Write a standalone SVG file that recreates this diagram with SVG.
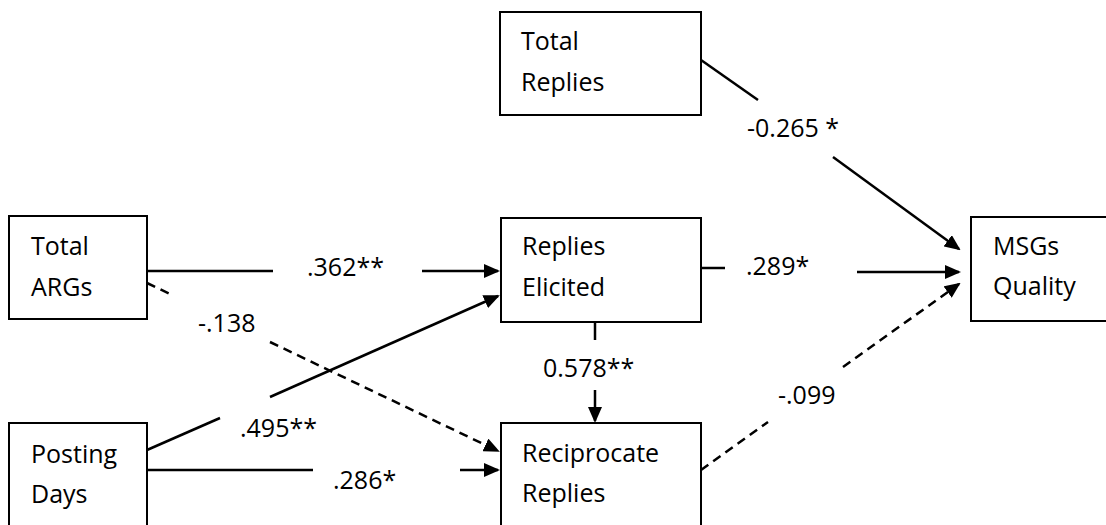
<svg xmlns="http://www.w3.org/2000/svg" width="1106" height="525" viewBox="0 0 1106 525">
<defs>
<style>
.box{fill:#fff;stroke:#000;stroke-width:2}
.t{font-family:"Open Sans","Liberation Sans",sans-serif;font-size:25px;fill:#000}
.c{fill:none;stroke:#000;stroke-width:2.5}
.d{stroke-dasharray:9,6}
</style>
<marker id="ah" markerUnits="userSpaceOnUse" markerWidth="16" markerHeight="14" refX="14" refY="7" orient="auto">
<path d="M0,0 L16,7 L0,14 z" fill="#000"/>
</marker>
</defs>
<rect width="1106" height="525" fill="#fff"/>
<g id="connectors">
<line class="c" x1="701" y1="60" x2="758" y2="100"/>
<line class="c" x1="833" y1="157" x2="959" y2="249" marker-end="url(#ah)"/>
<text class="t" x="747" y="137">-0.265 *</text>
<line class="c" x1="147" y1="271" x2="273" y2="271"/>
<line class="c" x1="422" y1="271" x2="498" y2="271" marker-end="url(#ah)"/>
<text class="t" x="307" y="276">.362**</text>
<line class="c d" x1="147" y1="283" x2="172" y2="295"/>
<line class="c d" x1="270" y1="342" x2="498" y2="451" marker-end="url(#ah)"/>
<text class="t" x="198" y="332">-.138</text>
<line class="c" x1="147" y1="450" x2="220" y2="418"/>
<line class="c" x1="270" y1="397" x2="498" y2="296" marker-end="url(#ah)"/>
<text class="t" x="240" y="437">.495**</text>
<line class="c" x1="147" y1="470" x2="313" y2="470"/>
<line class="c" x1="460" y1="470" x2="498" y2="470" marker-end="url(#ah)"/>
<text class="t" x="333" y="489">.286*</text>
<line class="c" x1="595" y1="322" x2="595" y2="340"/>
<line class="c" x1="595" y1="390" x2="595" y2="421" marker-end="url(#ah)"/>
<text class="t" x="543" y="377">0.578**</text>
<line class="c" x1="701" y1="268" x2="725" y2="268"/>
<line class="c" x1="857" y1="272" x2="959" y2="272" marker-end="url(#ah)"/>
<text class="t" x="746" y="275">.289*</text>
<line class="c d" x1="701" y1="470" x2="768" y2="422"/>
<line class="c d" x1="843" y1="367" x2="959" y2="284" marker-end="url(#ah)"/>
<text class="t" x="778" y="404">-.099</text>
</g>
<g id="total-replies">
<rect class="box" x="500" y="12" width="201" height="103"/>
<text class="t" x="521" y="50">Total</text>
<text class="t" x="521" y="91">Replies</text>
</g>
<g id="total-args">
<rect class="box" x="9" y="216" width="138" height="103"/>
<text class="t" x="31" y="255">Total</text>
<text class="t" x="31" y="296">ARGs</text>
</g>
<g id="replies-elicited">
<rect class="box" x="501" y="218" width="200" height="104"/>
<text class="t" x="522" y="255">Replies</text>
<text class="t" x="522" y="296">Elicited</text>
</g>
<g id="msgs-quality">
<rect class="box" x="971" y="217" width="150" height="104"/>
<text class="t" x="993" y="255">MSGs</text>
<text class="t" x="993" y="295">Quality</text>
</g>
<g id="posting-days">
<rect class="box" x="9" y="423" width="138" height="120"/>
<text class="t" x="31" y="463">Posting</text>
<text class="t" x="31" y="503">Days</text>
</g>
<g id="reciprocate-replies">
<rect class="box" x="501" y="423" width="200" height="120"/>
<text class="t" x="522" y="462">Reciprocate</text>
<text class="t" x="522" y="502">Replies</text>
</g>
</svg>
